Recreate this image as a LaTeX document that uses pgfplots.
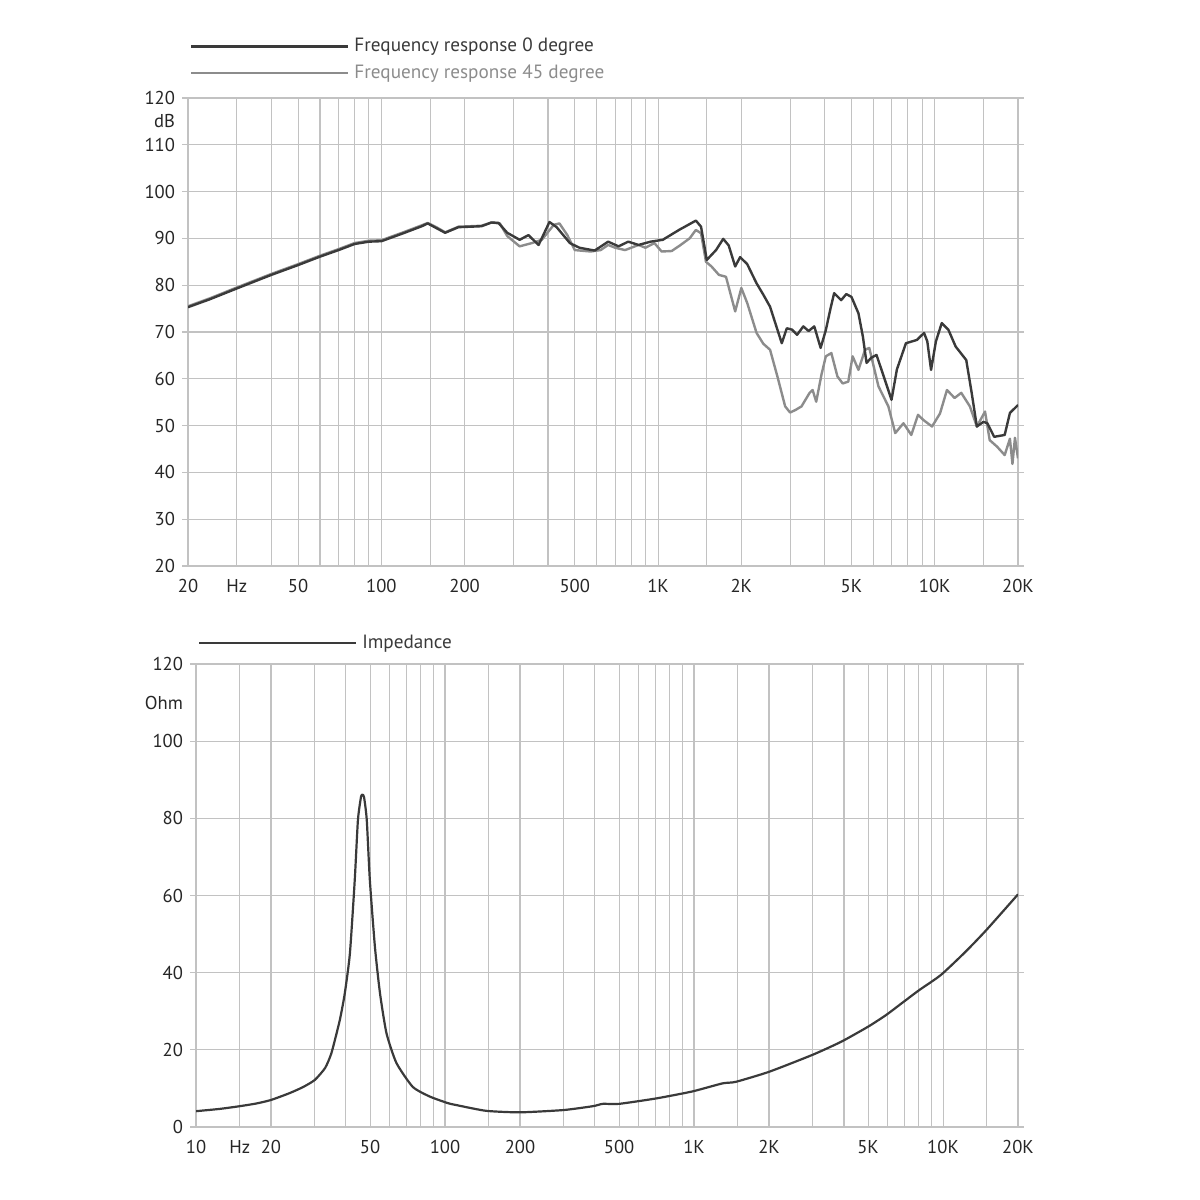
\documentclass[border=0pt]{standalone}
\usepackage{pgfplots}
\pgfplotsset{compat=1.18}
\usepackage{fontspec}
\setmainfont{PT Sans}
\definecolor{gridc}{HTML}{C2C2C2}
\definecolor{darkc}{HTML}{3A3A3A}
\definecolor{grayc}{HTML}{8C8C8C}
\begin{document}
\begin{tikzpicture}
\path[use as bounding box] (0,0) rectangle (600pt,600pt);
\pgfplotsset{
  every axis/.append style={
    scale only axis,
    xmode=log,
    grid=major,
    major grid style={draw=gridc, line width=0.55pt},
    axis line style={draw=gridc, line width=0.7pt},
    tick style={draw=gridc, line width=0.55pt},
    xtick style={draw=none},
    major tick length=3pt,
    tick align=outside,
    ticklabel style={font=\fontsize{9.3}{11}\selectfont, text=black!85},
    legend style={draw=none, fill=none, font=\fontsize{9.6}{11}\selectfont,
      inner sep=0pt, row sep=3pt, nodes={inner sep=1pt},
      /tikz/every odd column/.append style={column sep=1.5pt}},
    legend cell align=left,
    legend image code/.code={\draw[#1] (0pt,0pt) -- (78.5pt,0pt);},
  },
}
% ---------- frequency response ----------
\begin{axis}[
  at={(94pt,317pt)}, anchor=south west,
  width=415pt, height=234pt,
  xmin=20, xmax=20000, ymin=20, ymax=120,
  xtick={20,30,40,50,60,70,80,90,100,150,200,300,400,500,600,700,800,900,1000,1500,2000,3000,4000,5000,6000,7000,8000,9000,10000,15000,20000},
  xticklabels={20,Hz,,50,,,,,100,,200,,,500,,,,,1K,,2K,,,5K,,,,,10K,,20K},
  ytick={20,30,40,50,60,70,80,90,100,110,120},
  yticklabels={20,30,40,50,60,70,80,90,100,110,120},
  extra y ticks={115}, extra y tick labels={dB},
  extra y tick style={grid=none, tick style={draw=none}},
  legend style={at={(axis description cs:0.002,1.03)}, anchor=south west},
]
\addplot[grayc, line width=1.2pt, line join=round, forget plot] coordinates {
(20,75.5) (24,77.2) (30,79.5) (40,82.4) (50,84.5) (60,86.3) (70,87.7) (80,89.0)
(90,89.5) (100,89.6) (120,91.3) (140,92.8) (147,93.3) (158,92.4) (170,91.3)
(190,92.5) (210,92.6) (230,92.7) (250,93.4) (268,93.2) (285,90.5) (316,88.3)
(350,89.0) (380,89.7) (420,92.9) (440,93.2) (470,90.7) (500,87.5) (570,87.2)
(620,87.5) (660,88.6) (700,88.0) (760,87.5) (850,88.6) (900,88.0) (970,89.0)
(1030,87.2) (1120,87.3) (1200,88.5) (1300,90.0) (1370,91.8) (1430,91.1)
(1490,85.0) (1560,84.0) (1660,82.2) (1760,81.8) (1900,74.4) (2000,79.4)
(2100,76.2) (2270,69.8) (2400,67.5) (2540,66.2) (2700,60.5) (2880,54.1)
(3000,52.8) (3130,53.3) (3300,54.1) (3530,57.0) (3620,57.6) (3730,55.1)
(3900,61.0) (4040,64.8) (4230,65.5) (4450,60.5) (4650,59.0) (4870,59.4)
(5050,64.8) (5300,61.9) (5600,66.2) (5800,66.6) (6260,58.4) (6800,54.1)
(7200,48.4) (7710,50.5) (8230,48.0) (8700,52.3) (9100,51.2) (9780,49.8)
(10450,52.6) (11070,57.6) (11800,55.9) (12470,57.0) (13400,54.1) (14200,49.8)
(15200,53.0) (15800,46.9) (16800,45.5) (17900,43.7) (18700,47.2) (19100,41.8)
(19500,47.4) (20000,43.0)
};
\addplot[darkc, line width=1.2pt, line join=round, forget plot] coordinates {
(20,75.3) (24,77.0) (30,79.3) (40,82.2) (50,84.3) (60,86.1) (70,87.5) (80,88.8)
(90,89.3) (100,89.4) (120,91.1) (140,92.6) (147,93.2) (158,92.2) (170,91.2)
(190,92.4) (210,92.5) (230,92.6) (250,93.4) (265,93.3) (285,91.2) (316,89.7)
(340,90.7) (370,88.6) (405,93.5) (430,92.4) (480,89.0) (520,88.0) (590,87.4)
(660,89.3) (720,88.3) (780,89.3) (850,88.6) (940,89.3) (1040,89.7) (1190,91.8)
(1370,93.8) (1430,92.5) (1500,85.4) (1620,87.5) (1720,89.9) (1800,88.5)
(1900,84.0) (1980,86.0) (2100,84.5) (2270,80.4) (2400,78.0) (2540,75.4)
(2650,72.0) (2800,67.6) (2920,70.8) (3050,70.5) (3180,69.4) (3350,71.2)
(3500,70.2) (3670,71.2) (3870,66.6) (4040,70.4) (4200,75.0) (4330,78.3)
(4590,76.8) (4790,78.1) (5000,77.5) (5300,74.0) (5500,69.0) (5670,63.4)
(5900,64.5) (6160,65.1) (6500,61.0) (6980,55.5) (7300,62.0) (7870,67.6)
(8620,68.3) (9150,69.8) (9400,68.0) (9700,61.9) (10100,68.0) (10600,71.9)
(11200,70.5) (11900,66.9) (13000,64.0) (13600,57.0) (14200,49.8) (15000,50.8)
(15500,50.5) (16400,47.6) (17900,48.0) (18700,52.7) (20000,54.4)
};
\addlegendimage{darkc, line width=1.2pt}
\addlegendentry{\textcolor{darkc}{Frequency response 0 degree}}
\addlegendimage{grayc, line width=1.2pt}
\addlegendentry{\textcolor{grayc}{Frequency response 45 degree}}
\end{axis}
% ---------- impedance ----------
\begin{axis}[
  at={(98pt,36.5pt)}, anchor=south west,
  width=411pt, height=231.5pt,
  xmin=10, xmax=20000, ymin=0, ymax=120,
  xtick={10,15,20,30,40,50,60,70,80,90,100,150,200,300,400,500,600,700,800,900,1000,1500,2000,3000,4000,5000,6000,7000,8000,9000,10000,15000,20000},
  xticklabels={10,Hz,20,,,50,,,,,100,,200,,,500,,,,,1K,,2K,,,5K,,,,,10K,,20K},
  ytick={0,20,40,60,80,100,120},
  yticklabels={0,20,40,60,80,100,120},
  extra y ticks={110}, extra y tick labels={Ohm},
  extra y tick style={grid=none, tick style={draw=none}},
  legend style={at={(axis description cs:0.002,1.022)}, anchor=south west},
]
\addplot[darkc, line width=1.1pt, line join=round, smooth, tension=0.35] coordinates {
(10,4.1) (12.5,4.7) (15,5.4) (17.5,6.1) (20,7.0) (23.8,8.8) (27,10.4) (30,12.2)
(33,15.3) (35,19.2) (37.8,27.7) (39.6,34.7) (41.5,45.0) (43.4,64.0) (44.7,79.6)
(46.0,85.6) (46.6,86.1) (47.3,85.5) (48.5,79.6) (49.9,64.0) (52.3,46.7)
(54.8,34.7) (58.2,24.3) (63.8,16.6) (74.2,10.4) (86.8,7.9) (102.5,6.2)
(110.7,5.7) (146,4.2) (200,3.8) (300,4.4) (393,5.4) (430,6.0) (500,6.0)
(704,7.4) (982,9.2) (1300,11.3) (1470,11.7) (2000,14.3) (2990,18.7) (3900,22.1)
(5000,26.0) (5900,29.0) (6800,32.0) (8030,35.5) (9800,39.4) (12300,45.4)
(14900,51.0) (20000,60.3)
};
\addlegendentry{\textcolor{darkc}{Impedance}}
\end{axis}
\end{tikzpicture}
\end{document}
